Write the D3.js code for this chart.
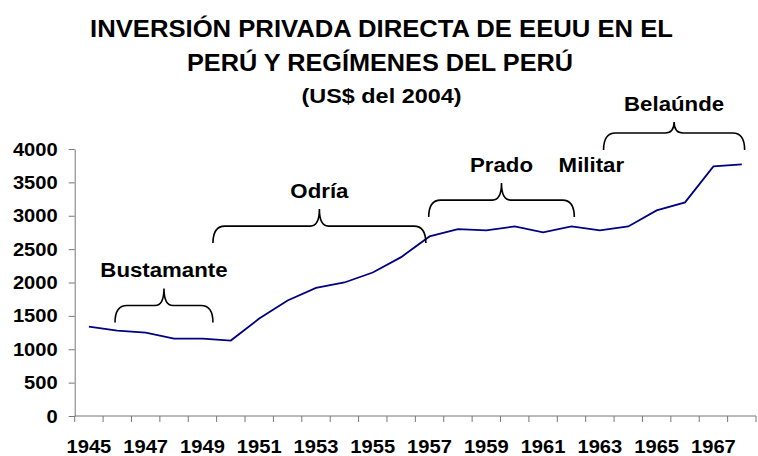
<!DOCTYPE html>
<html>
<head>
<meta charset="utf-8">
<script src="https://cdn.jsdelivr.net/npm/d3@7"></script>
<style>
  body { margin: 0; background: #fff; }
  text { font-family: Arial, "Liberation Sans", sans-serif; font-weight: bold; fill: #000; }
</style>
</head>
<body>
<svg id="chart" width="758" height="456"></svg>
<script>
// data
const years = d3.range(1945, 1969);
const investment = [1340, 1280, 1250, 1160, 1160, 1130, 1460, 1730, 1920, 2000, 2150, 2380,
                    2690, 2800, 2780, 2840, 2750, 2840, 2780, 2840, 3080, 3200, 3740, 3770];
const yTicks = [0, 500, 1000, 1500, 2000, 2500, 3000, 3500, 4000];
const xLabels = [1945, 1947, 1949, 1951, 1953, 1955, 1957, 1959, 1961, 1963, 1965, 1967];

// regimes: brace span in (fractional) years and height in US$ units
const regimeNames = ["Bustamante", "Odría", "Prado", "Militar", "Belaúnde"];
const regimeStart = [1945.92, 1949.37, 1956.97, 1962.7, 1963.13];
const regimeEnd   = [1949.37, 1956.87, 1962.1, 1962.7, 1968.1];
const regimeLevel = [1400, 2590, 2980, 2970, 3985];
const regimeBrace = [true, true, true, false, true];

const titleLines = ["INVERSIÓN PRIVADA DIRECTA DE EEUU EN EL", "PERÚ Y REGÍMENES DEL PERÚ"];
const subtitle = "(US$ del 2004)";

const svg = d3.select("svg#chart");

const x = d3.scaleBand().domain(years).range([74.7, 756]).padding(0);
const y = d3.scaleLinear().domain([0, 4000]).range([416, 149]);
const axisColor = "#777";

// the original picture is a bit wider than tall, so stretch glyphs sideways
function widen(sel, k) {
  sel.each(function() {
    const w = this.getComputedTextLength();
    d3.select(this).attr("textLength", w * k).attr("lengthAdjust", "spacingAndGlyphs");
  });
}

// title
svg.append("text").attr("x", 381.5).attr("y", 37).attr("text-anchor", "middle")
  .style("font-size", "23.5px").text(titleLines[0])
  .attr("textLength", 583).attr("lengthAdjust", "spacingAndGlyphs");
svg.append("text").attr("x", 380).attr("y", 71).attr("text-anchor", "middle")
  .style("font-size", "23.5px").text(titleLines[1])
  .attr("textLength", 386).attr("lengthAdjust", "spacingAndGlyphs");
svg.append("text").attr("x", 381.5).attr("y", 102.5).attr("text-anchor", "middle")
  .style("font-size", "19.5px").text(subtitle)
  .attr("textLength", 160).attr("lengthAdjust", "spacingAndGlyphs");

// y axis
const yAxis = svg.append("g")
  .attr("transform", "translate(74.7,0)")
  .call(d3.axisLeft(y).tickValues(yTicks).tickFormat(d3.format("d"))
    .tickSize(6).tickSizeOuter(0).tickPadding(11));
yAxis.select(".domain").attr("stroke", axisColor);
yAxis.selectAll(".tick line").attr("stroke", axisColor);
yAxis.selectAll(".tick text")
  .style("font-size", "19px")
  .attr("font-family", null).attr("fill", "#000")
  .call(widen, 1.06);

// x axis: ticks on category boundaries, labels in the middle
const xAxis = svg.append("g").attr("transform", "translate(0,416)");
xAxis.append("line")
  .attr("x1", x.range()[0]).attr("x2", x.range()[1])
  .attr("stroke", axisColor);
xAxis.selectAll(".xtick")
  .data(years.map(d => x(d)).concat([x.range()[1]]))
  .enter().append("line")
  .attr("class", "xtick")
  .attr("x1", d => d).attr("x2", d => d)
  .attr("y1", 0).attr("y2", 6)
  .attr("stroke", axisColor);
xAxis.selectAll(".xlabel")
  .data(xLabels)
  .enter().append("text")
  .attr("class", "xlabel")
  .attr("x", d => x(d) + x.bandwidth() / 2)
  .attr("y", 37)
  .attr("text-anchor", "middle")
  .style("font-size", "19px")
  .text(d => d)
  .call(widen, 1.06);

// line
const line = d3.line()
  .x((d, i) => x(years[i]) + x.bandwidth() / 2)
  .y(d => y(d));
svg.append("path")
  .datum(investment)
  .attr("d", line)
  .attr("fill", "none")
  .attr("stroke", "#000080")
  .attr("stroke-width", 1.8);

// braces + regime labels
const xPos = yr => x(1945) + (yr - 1945 + 0.5) * x.step();

function bracePath(x0, x1, yb, depth, cusp) {
  const xm = (x0 + x1) / 2, yh = yb - depth, yp = yh - cusp;
  const r = 12, r2 = 9;
  return `M${x0},${yb} Q${x0},${yh} ${x0 + r},${yh} L${xm - r2},${yh} Q${xm},${yh} ${xm},${yp}` +
         ` Q${xm},${yh} ${xm + r2},${yh} L${x1 - r},${yh} Q${x1},${yh} ${x1},${yb}`;
}

regimeNames.forEach((name, i) => {
  const x0 = xPos(regimeStart[i]), x1 = xPos(regimeEnd[i]);
  const yb = y(regimeLevel[i]);
  const depth = 17;
  const cusp = i === 4 ? 11 : 17;
  if (regimeBrace[i]) {
    svg.append("path")
      .attr("d", bracePath(x0, x1, yb, depth, cusp))
      .attr("fill", "none")
      .attr("stroke", "#000")
      .attr("stroke-width", 1.6);
  }
  svg.append("text")
    .attr("x", (x0 + x1) / 2)
    .attr("y", yb - depth - cusp - 11.5)
    .attr("text-anchor", "middle")
    .style("font-size", "19.5px")
    .text(name)
    .call(widen, 1.14);
});
</script>
</body>
</html>
